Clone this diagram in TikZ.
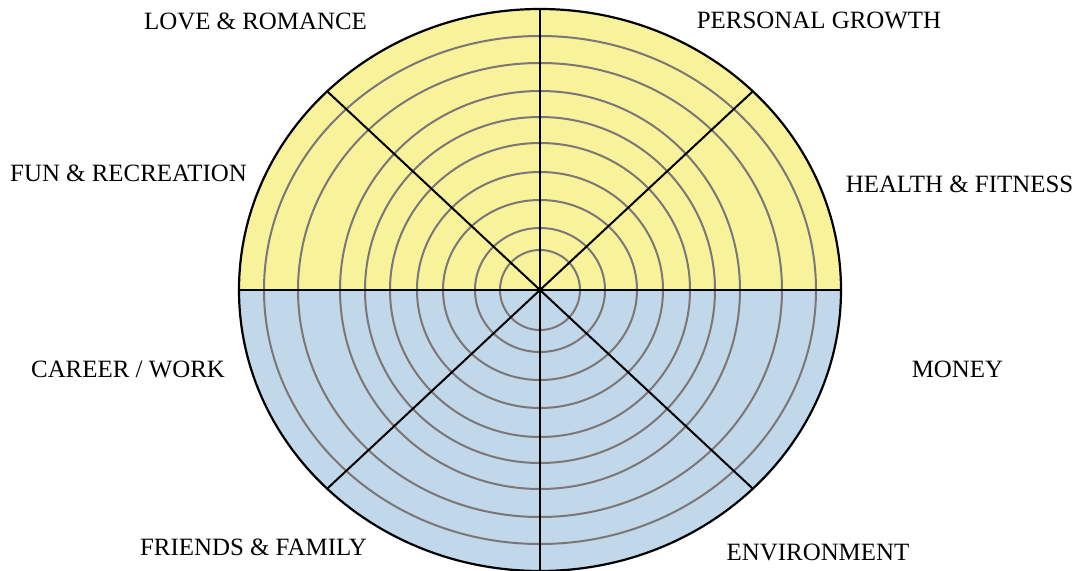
\documentclass[tikz,border=0pt]{standalone}
\usepackage{fontspec}
\setmainfont{Liberation Serif}
\definecolor{topfill}{RGB}{248,242,155}
\definecolor{botfill}{RGB}{193,215,234}
\definecolor{ringgray}{RGB}{125,118,118}
\begin{document}
\begin{tikzpicture}[x=1bp,y=-1bp,line join=round,line width=2bp,
  ring/.style={draw=ringgray,line width=2bp},
  area/.style={font=\fontsize{25}{30}\selectfont,anchor=base,inner sep=0pt}]
\useasboundingbox (0,0) rectangle (1078,571);
\coordinate (O) at (540,290);

\fill[botfill](O)++(301,0) arc[start angle=0,end angle=180,x radius=301,y radius=281]--cycle;
\fill[topfill](O)++(301,0) arc[start angle=0,end angle=-180,x radius=301,y radius=281]--cycle;

\foreach \rx/\ry in {40/40,65/62,97/90,123/118,150/147,175/173,200/199,242/227,276/254}
  \draw[ring](O) ellipse[x radius=\rx,y radius=\ry];

\foreach \a in {0,45,...,315}
  \draw(O)--++(\a:301 and 281);
\draw[line width=2.2bp](O) ellipse[x radius=301,y radius=281];

    \node[area] (love) at (255.5,30) {LOVE \& ROMANCE};
    \node[area] (growth) at (819,29) {PERSONAL GROWTH};
    \node[area] (fun) at (128.5,182) {FUN \& RECREATION};
    \node[area] (health) at (959.5,193) {HEALTH \& FITNESS};
    \node[area] (career) at (128,377) {CAREER / WORK};
    \node[area] (money) at (957.5,377) {MONEY};
    \node[area] (friends) at (253.5,555) {FRIENDS \& FAMILY};
    \node[area] (environment) at (818,560) {ENVIRONMENT};
  \end{tikzpicture}
\end{document}
